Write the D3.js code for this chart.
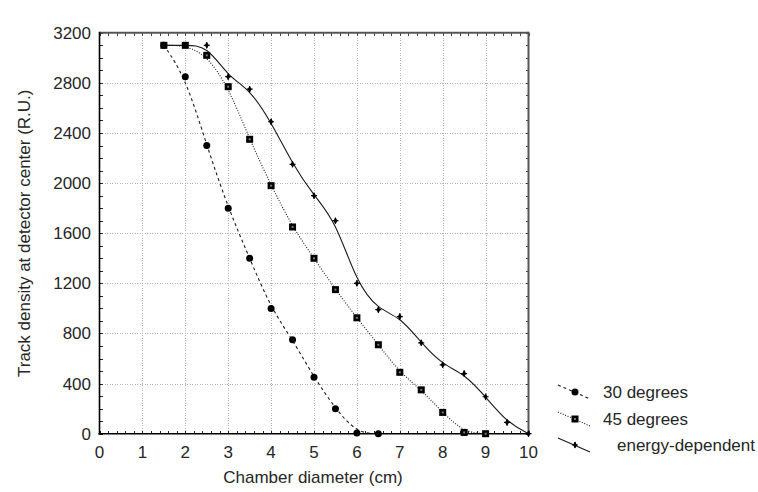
<!DOCTYPE html>
<html>
<head>
<meta charset="utf-8">
<script src="https://cdn.jsdelivr.net/npm/d3@7"></script>
<style>
  html, body { margin: 0; padding: 0; background: #fff; }
  svg { display: block; font-family: "Liberation Sans", Arial, sans-serif; }
</style>
</head>
<body>
<svg id="chart" width="758" height="492"></svg>
<script>
// Chamber diameter (cm)
const diam30 = [1.5, 2, 2.5, 3, 3.5, 4, 4.5, 5, 5.5, 6, 6.5];
const dens30 = [3100, 2850, 2300, 1800, 1400, 1000, 750, 450, 200, 5, 0];

const diam45 = [1.5, 2, 2.5, 3, 3.5, 4, 4.5, 5, 5.5, 6, 6.5, 7, 7.5, 8, 8.5, 9];
const dens45 = [3100, 3100, 3020, 2770, 2350, 1980, 1650, 1400, 1150, 925, 710, 490, 350, 170, 10, 0];

const diamEn = [1.5, 2, 2.5, 3, 3.5, 4, 4.5, 5, 5.5, 6, 6.5, 7, 7.5, 8, 8.5, 9, 9.5, 10];
const densEn = [3100, 3100, 3100, 2850, 2750, 2490, 2150, 1900, 1700, 1200, 990, 935, 725, 550, 480, 295, 90, 0];

const xTicks = [0, 1, 2, 3, 4, 5, 6, 7, 8, 9, 10];
const yTicks = [0, 400, 800, 1200, 1600, 2000, 2400, 2800, 3200];
const seriesNames = ["30 degrees", "45 degrees", "energy-dependent"];

const svg = d3.select("#chart");
const L = 99.5, R = 528.5, T = 32.8, B = 433.7;
const FS = 17;
const TXT = "#262626";

const x = d3.scaleLinear().domain([0, 10]).range([L, R]);
const y = d3.scaleLinear().domain([0, 3200]).range([B, T]);

// grid
const grid = svg.append("g").attr("stroke", "#b4b4b4").attr("stroke-width", 1)
  .attr("stroke-dasharray", "1,1.5").attr("shape-rendering", "crispEdges");
xTicks.slice(1, -1).forEach(t => grid.append("line")
  .attr("x1", Math.round(x(t)) + 0.5).attr("x2", Math.round(x(t)) + 0.5).attr("y1", T).attr("y2", B));
yTicks.slice(1, -1).forEach(t => grid.append("line")
  .attr("y1", Math.round(y(t)) + 0.5).attr("y2", Math.round(y(t)) + 0.5).attr("x1", L).attr("x2", R));

// inward ticks on all four sides
const minorX = d3.range(0, 10.001, 0.2);
const minorY = d3.range(0, 3200.1, 100);
const tk = svg.append("g").attr("stroke", "#222").attr("stroke-width", 1).attr("shape-rendering", "crispEdges");
minorX.forEach(v => {
  const px = Math.round(x(v)) + 0.5;
  tk.append("line").attr("x1", px).attr("x2", px).attr("y1", B).attr("y2", B - 3);
  tk.append("line").attr("x1", px).attr("x2", px).attr("y1", T).attr("y2", T + 3).attr("stroke", "#444");
});
minorY.forEach(v => {
  const py = Math.round(y(v)) + 0.5;
  tk.append("line").attr("y1", py).attr("y2", py).attr("x1", L).attr("x2", L + 3);
  tk.append("line").attr("y1", py).attr("y2", py).attr("x1", R).attr("x2", R - 3).attr("stroke", "#444");
});

// frame
svg.append("line").attr("x1", L).attr("x2", R).attr("y1", T).attr("y2", T)
  .attr("stroke", "#555").attr("stroke-width", 2);
svg.append("line").attr("x1", R).attr("x2", R).attr("y1", T - 1).attr("y2", B)
  .attr("stroke", "#555").attr("stroke-width", 2);
svg.append("line").attr("x1", L).attr("x2", L).attr("y1", T - 1).attr("y2", B + 1)
  .attr("stroke", "#000").attr("stroke-width", 1.6);
svg.append("line").attr("x1", L - 1).attr("x2", R).attr("y1", B).attr("y2", B)
  .attr("stroke", "#000").attr("stroke-width", 1.6);

// tick labels
svg.append("g").selectAll("text").data(xTicks).join("text")
  .attr("x", d => x(d)).attr("y", 458).attr("text-anchor", "middle")
  .attr("font-size", FS).attr("fill", TXT).text(d => d);
svg.append("g").selectAll("text").data(yTicks).join("text")
  .attr("x", 91).attr("y", d => y(d) + 6).attr("text-anchor", "end")
  .attr("font-size", FS).attr("fill", TXT).text(d => d);

// axis titles
svg.append("text").attr("x", 313).attr("y", 483).attr("text-anchor", "middle")
  .attr("font-size", FS).attr("fill", TXT).text("Chamber diameter (cm)");
svg.append("text").attr("transform", `translate(30,${(T + B) / 2}) rotate(-90)`)
  .attr("text-anchor", "middle").attr("font-size", FS).attr("fill", TXT)
  .text("Track density at detector center (R.U.)");

// series
const series = [
  { xs: diam30, ys: dens30, dash: "3,3", width: 1.1, marker: "circle" },
  { xs: diam45, ys: dens45, dash: "1,1.6", width: 1.1, marker: "square" },
  { xs: diamEn, ys: densEn, dash: null, width: 1.1, marker: "diamond" }
];

svg.append("clipPath").attr("id", "plotclip").append("rect")
  .attr("x", L).attr("y", T - 2).attr("width", R - L).attr("height", B - T + 2);

const line = d3.line().x(d => x(d[0])).y(d => y(d[1])).curve(d3.curveBasis);

function drawMarker(g, kind, cx, cy) {
  if (kind === "circle") {
    g.append("circle").attr("cx", cx).attr("cy", cy).attr("r", 3.5).attr("fill", "#000");
  } else if (kind === "square") {
    g.append("rect").attr("x", cx - 3.5).attr("y", cy - 3.5).attr("width", 7).attr("height", 7)
      .attr("fill", "#000");
    g.append("rect").attr("x", cx - 1).attr("y", cy - 1).attr("width", 2).attr("height", 2)
      .attr("fill", "#777");
  } else {
    g.append("path").attr("transform", `translate(${cx},${cy})`)
      .attr("d", d3.symbol(d3.symbolDiamond, 14)()).attr("fill", "#000");
    g.append("path").attr("d", `M${cx - 3},${cy}H${cx + 3}M${cx},${cy - 3}V${cy + 3}`)
      .attr("stroke", "#000").attr("stroke-width", 1.2);
  }
}

series.forEach(s => {
  const pts = s.xs.map((v, i) => [v, s.ys[i]]);
  svg.append("path").attr("clip-path", "url(#plotclip)")
    .attr("d", line(pts)).attr("fill", "none").attr("stroke", "#1a1a1a")
    .attr("stroke-width", s.width).attr("stroke-dasharray", s.dash);
  const g = svg.append("g");
  pts.forEach(p => drawMarker(g, s.marker, x(p[0]), y(p[1])));
});

// legend
const legY = [392, 419, 445];
const legTextX = [603, 603, 617];
seriesNames.forEach((name, i) => {
  const s = series[i];
  const cy = legY[i];
  svg.append("line").attr("x1", 558).attr("y1", cy - 7).attr("x2", 590).attr("y2", cy + 7)
    .attr("stroke", "#1a1a1a").attr("stroke-width", 1.1).attr("stroke-dasharray", s.dash);
  drawMarker(svg.append("g"), s.marker, 575, cy);
  svg.append("text").attr("x", legTextX[i]).attr("y", cy + 6)
    .attr("font-size", FS).attr("fill", TXT).text(name);
});
</script>
</body>
</html>
